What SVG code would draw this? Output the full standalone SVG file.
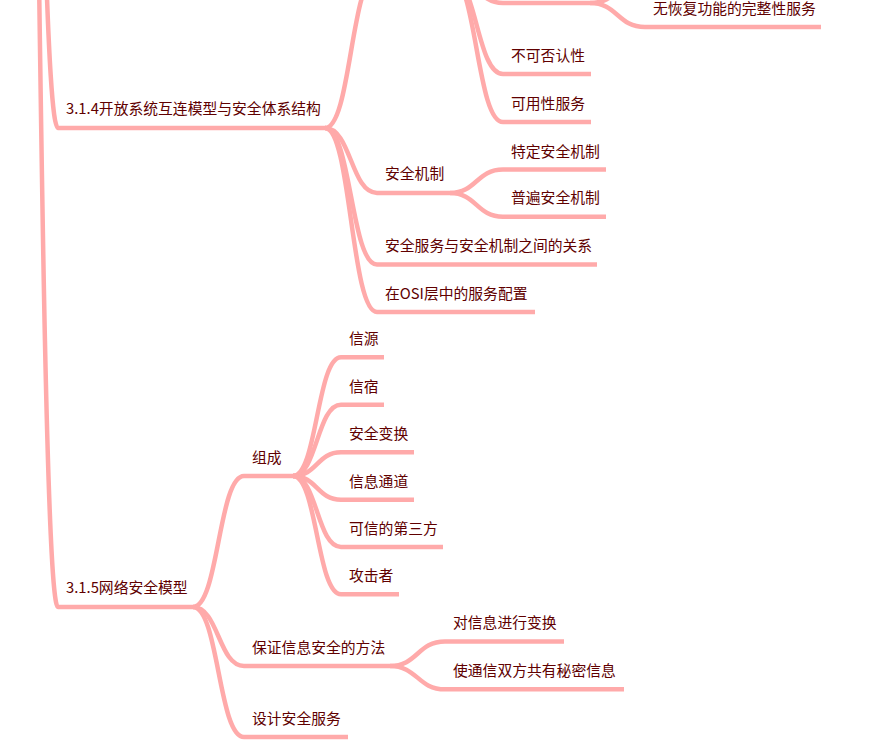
<svg xmlns="http://www.w3.org/2000/svg" width="871" height="750" viewBox="0 0 871 750">
<style>
  text { font-family: "Noto Sans CJK SC", "Noto Sans", sans-serif; font-size: 14.8px; fill: #600000; }
  .ul { stroke: #ffaaaa; stroke-width: 4.5; fill: none; }
  .lk { stroke: #ffaaaa; stroke-width: 4.5; fill: none; }
</style>
<rect width="871" height="750" fill="#ffffff"/>
<g id="connectors">
  <!-- root to 3.1.4 / 3.1.5 -->
  <path class="lk" d="M14 -1100 C36 -1100 36 128 58 128"/>
  <path class="lk" d="M14 -1100 C36 -1100 36 607 58 607"/>
  <!-- 3.1.4 children -->
  <path class="lk" d="M325 128 C351 128 351 -25 377 -25"/>
  <path class="lk" d="M325 128 C351 128 351 193 377 193"/>
  <path class="lk" d="M325 128 C351 128 351 264.5 377 264.5"/>
  <path class="lk" d="M325 128 C351 128 351 312 377 312"/>
  <!-- offscreen parent children -->
  <path class="lk" d="M450 -25 C476.5 -25 476.5 3 503 3"/>
  <path class="lk" d="M450 -25 C476.5 -25 476.5 74 503 74"/>
  <path class="lk" d="M450 -25 C476.5 -25 476.5 122 503 122"/>
  <path class="lk" d="M590 3 C617.5 3 617.5 -20 645 -20"/>
  <path class="lk" d="M590 3 C617.5 3 617.5 27 645 27"/>
  <!-- 安全机制 children -->
  <path class="lk" d="M450 193 C476.5 193 476.5 169.5 503 169.5"/>
  <path class="lk" d="M450 193 C476.5 193 476.5 216.7 503 216.7"/>
  <!-- 3.1.5 children -->
  <path class="lk" d="M193 607 C218.5 607 218.5 476 244 476"/>
  <path class="lk" d="M193 607 C218.5 607 218.5 666 244 666"/>
  <path class="lk" d="M193 607 C218.5 607 218.5 737 244 737"/>
  <!-- 组成 children -->
  <path class="lk" d="M293 476 C317 476 317 357.3 341 357.3"/>
  <path class="lk" d="M293 476 C317 476 317 404.7 341 404.7"/>
  <path class="lk" d="M293 476 C317 476 317 452.3 341 452.3"/>
  <path class="lk" d="M293 476 C317 476 317 499.7 341 499.7"/>
  <path class="lk" d="M293 476 C317 476 317 547 341 547"/>
  <path class="lk" d="M293 476 C317 476 317 594.3 341 594.3"/>
  <!-- 保证信息安全的方法 children -->
  <path class="lk" d="M390 666 C417.5 666 417.5 641.5 445 641.5"/>
  <path class="lk" d="M390 666 C417.5 666 417.5 689.3 445 689.3"/>
</g>
<g id="n-offscreen-a"><line class="ul" x1="503" y1="3" x2="590" y2="3"/></g>
<g id="n-wuhuifu"><line class="ul" x1="645" y1="27" x2="821" y2="27"/><text x="653" y="13.5">无恢复功能的完整性服务</text></g>
<g id="n-bukefouren"><line class="ul" x1="503" y1="74" x2="591" y2="74"/><text x="511" y="61">不可否认性</text></g>
<g id="n-keyongxing"><line class="ul" x1="503" y1="122" x2="591" y2="122"/><text x="511" y="108.5">可用性服务</text></g>
<g id="n-314"><line class="ul" x1="58" y1="128" x2="325" y2="128"/><text x="66" y="114">3.1.4开放系统互连模型与安全体系结构</text></g>
<g id="n-anquanjizhi"><line class="ul" x1="377" y1="193" x2="450" y2="193"/><text x="385" y="179">安全机制</text></g>
<g id="n-teding"><line class="ul" x1="503" y1="169.5" x2="606" y2="169.5"/><text x="511" y="156.5">特定安全机制</text></g>
<g id="n-pubian"><line class="ul" x1="503" y1="216.7" x2="606" y2="216.7"/><text x="511" y="203">普遍安全机制</text></g>
<g id="n-guanxi"><line class="ul" x1="377" y1="264.5" x2="597" y2="264.5"/><text x="385" y="251">安全服务与安全机制之间的关系</text></g>
<g id="n-osi"><line class="ul" x1="377" y1="312" x2="535" y2="312"/><text x="385" y="298.5">在OSI层中的服务配置</text></g>
<g id="n-315"><line class="ul" x1="58" y1="607" x2="193" y2="607"/><text x="66" y="593">3.1.5网络安全模型</text></g>
<g id="n-zucheng"><line class="ul" x1="244" y1="476" x2="293" y2="476"/><text x="252" y="462.5">组成</text></g>
<g id="n-xinyuan"><line class="ul" x1="341" y1="357.3" x2="384" y2="357.3"/><text x="349" y="344">信源</text></g>
<g id="n-xinsu"><line class="ul" x1="341" y1="404.7" x2="384" y2="404.7"/><text x="349" y="391.5">信宿</text></g>
<g id="n-bianhuan"><line class="ul" x1="341" y1="452.3" x2="414" y2="452.3"/><text x="349" y="439">安全变换</text></g>
<g id="n-tongdao"><line class="ul" x1="341" y1="499.7" x2="414" y2="499.7"/><text x="349" y="486.5">信息通道</text></g>
<g id="n-disanfang"><line class="ul" x1="341" y1="547" x2="443" y2="547"/><text x="349" y="534">可信的第三方</text></g>
<g id="n-gongji"><line class="ul" x1="341" y1="594.3" x2="399" y2="594.3"/><text x="349" y="581">攻击者</text></g>
<g id="n-baozheng"><line class="ul" x1="244" y1="666" x2="390" y2="666"/><text x="252" y="653">保证信息安全的方法</text></g>
<g id="n-bianhuan2"><line class="ul" x1="445" y1="641.5" x2="564" y2="641.5"/><text x="453" y="628">对信息进行变换</text></g>
<g id="n-mimi"><line class="ul" x1="445" y1="689.3" x2="624" y2="689.3"/><text x="453" y="676">使通信双方共有秘密信息</text></g>
<g id="n-sheji"><line class="ul" x1="244" y1="737" x2="348" y2="737"/><text x="252" y="723.5">设计安全服务</text></g>
</svg>
